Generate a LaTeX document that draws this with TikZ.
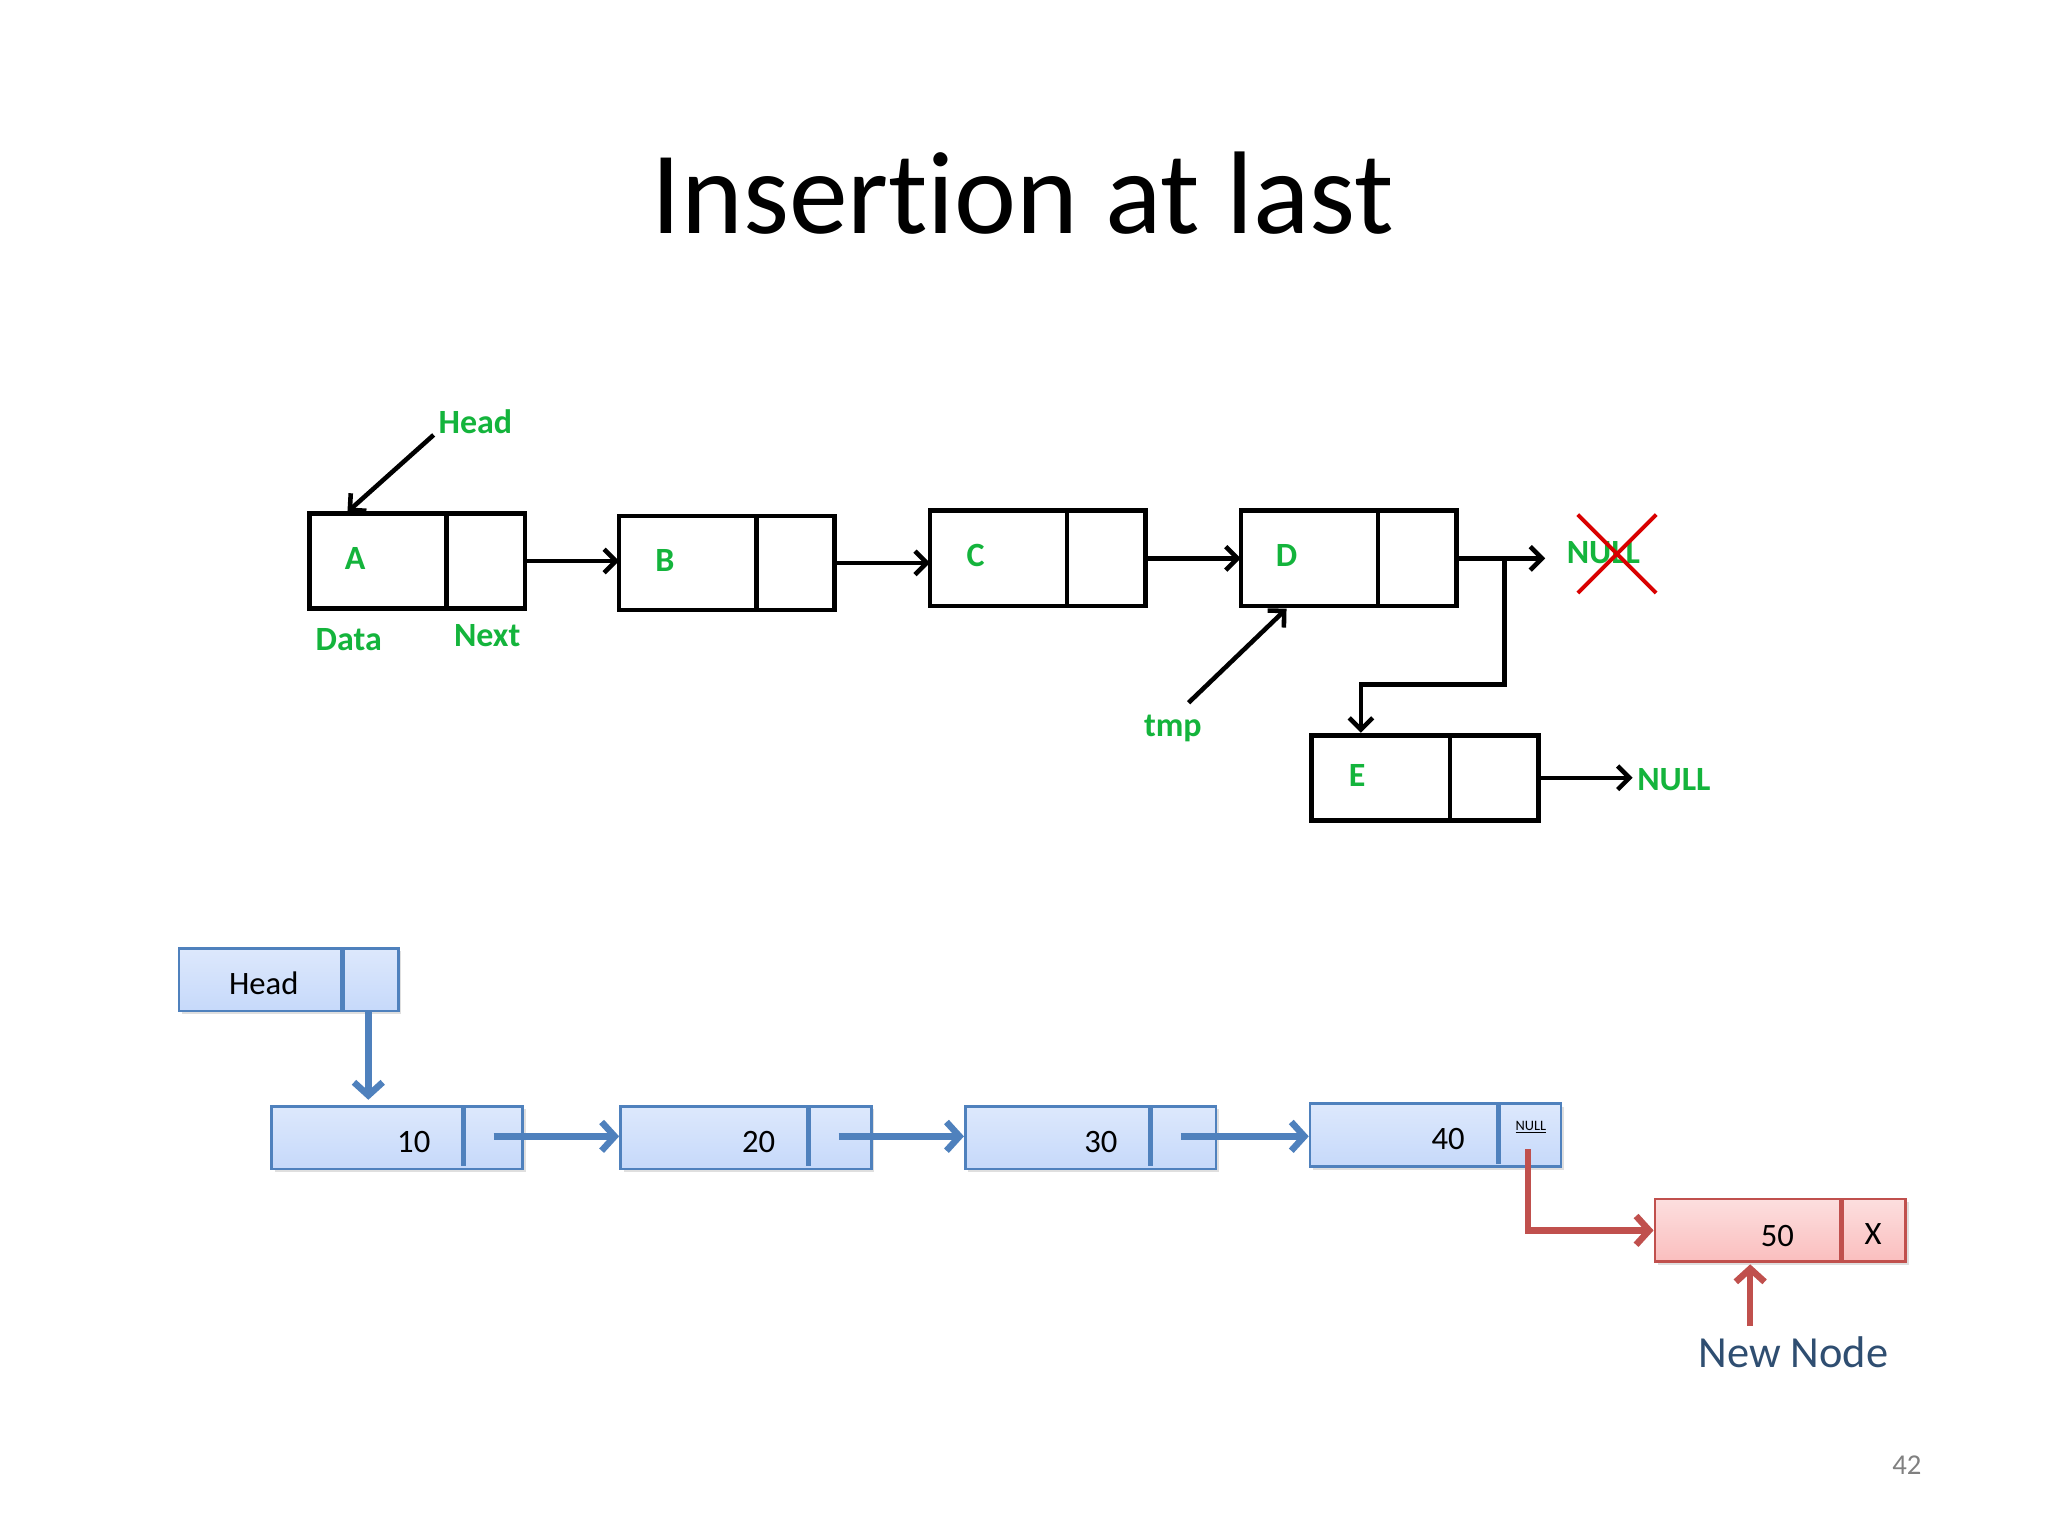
\documentclass[tikz,border=0pt]{standalone}
\usepackage{fontspec}
\setmainfont{Carlito}[Ligatures={NoCommon}]
\usetikzlibrary{arrows.meta,shadows}
\definecolor{grn}{RGB}{20,180,60}
\definecolor{bl}{RGB}{79,129,189}
\definecolor{blf}{RGB}{198,217,250}
\definecolor{rd}{RGB}{192,80,77}
\definecolor{rdf}{RGB}{250,190,190}
\newcommand\tbox[7]{%
 \draw[bx] (#2,#3) rectangle (#5,#6);
 \draw[bx] (#4,#3) -- (#4,#6);
 \path (#2,#3) -- coordinate (#1in) (#2,#6);
 \path (#5,#3) -- coordinate (#1out) (#5,#6);
 \node[gl] (#1t) at ([xshift=35pt,yshift=2pt]#1in) {#7};}
\newcommand\bbox[5]{%
 \node[bb,minimum width=192pt,minimum height=48pt,inner sep=0,anchor=north west] (#1) at (#2,#3) {};
 \draw[bl,line width=4pt] (#4,#3+1) -- (#4,#3+47);
 \node[nt,anchor=east] at (#4-22,#3+28) {#5};
 \coordinate (#1p) at (#4+23,#3+24);}
\begin{document}
\begin{tikzpicture}[x=1pt,y=-1pt,
 bx/.style={draw=black,line width=3.5pt},
 ar/.style={line width=3.5pt,-{Straight Barb[length=9pt,width=18pt]}},
 gl/.style={text=grn,font=\fontsize{26}{28}\selectfont\bfseries},
 bb/.style={draw=bl,line width=2pt,top color=blf!60!white,bottom color=blf,drop shadow={opacity=.25}},
 rb/.style={draw=rd,line width=2pt,top color=rdf!50!white,bottom color=rdf,drop shadow={opacity=.25}},
 ba/.style={draw=bl,line width=5pt,-{Straight Barb[length=10pt,width=22pt]}},
 ra/.style={draw=rd,line width=5pt,-{Straight Barb[length=10pt,width=22pt]}},
 nt/.style={font=\fontsize{25}{27}\selectfont}]
\useasboundingbox (0,0) rectangle (1568,1176);
\fill[white] (0,0) rectangle (1568,1176);
\node (title) at (783,148) {\fontsize{90}{100}\selectfont Insertion at last};
% top list
\tbox{A}{237}{393}{342}{402}{466}{A}
\tbox{B}{474}{395}{579}{639}{467}{B}
\tbox{C}{712}{391}{817}{877}{464}{C}
\tbox{D}{950}{391}{1055}{1115}{464}{D}
\tbox{E}{1004}{563}{1110}{1178}{628}{E}
\draw[ar] (Aout) -- (Aout -| Bin);
\draw[ar] (Bout) -- (Bout -| Cin);
\draw[ar] (Cout) -- (Cout -| Din);
\node[gl,anchor=west] (n1) at (1196,423) {NULL};
\draw[ar] (Dout) -- (1183,427.5);
\draw[red!85!black,line width=3pt] (1208,394) -- (1268,454) (1268,394) -- (1208,454);
\coordinate (br) at (1152,427);
\draw[ar] (br) -- (1152,524) -- (1042,524) -- (1042,561);
\node[gl,anchor=west] (n2) at (1250,597) {NULL};
\draw[ar] (Eout) -- (Eout -| n2.west);
\node[gl] (hd) at (364,323) {Head};
\draw[ar] (332,333) -- (266,392);
\node[gl] (dt) at (267,490) {Data};
\node[gl] (nx) at (373,487) {Next};
\node[gl] (tmp) at (898,558) {tmp};
\draw[ar] (910,538) -- (985,466);
% bottom list
\node[bb,minimum width=168pt,minimum height=48pt,inner sep=0] (H) at (221,750) {};
\draw[bl,line width=4pt] (262,727) -- (262,773);
\node[nt] at (202,753) {Head};
\bbox{a}{207}{846}{355}{10}
\bbox{b}{474}{846}{619}{20}
\bbox{c}{738}{846}{881}{30}
\bbox{d}{1002}{844}{1147}{40}
\draw[ba] (282,774) -- (282,842);
\draw[ba] (ap) -- (ap -| b.west);
\draw[ba] (bp) -- (bp -| c.west);
\draw[ba] (cp) -- (cp -| d.west);
\node[font=\fontsize{11}{11}\selectfont] at (1172,863) {\underline{NULL}};
\node[rb,minimum width=192pt,minimum height=48pt,inner sep=0] (e) at (1363,942) {};
\draw[rd,line width=4pt] (1410,919) -- (1410,965);
\node[nt,anchor=east] at (1377,946) {50};
\node[nt] at (1434,945) {X};
\draw[ra] (1170,880) -- (1170,942) -- (e.west);
\node[text=bl!60!black,font=\fontsize{34}{36}\selectfont] (nn) at (1373,1035) {New Node};
\draw[ra] (1340,1015) -- (1340,968);
\node[text=gray,font=\fontsize{22}{24}\selectfont] (pg) at (1460,1122) {42};
\end{tikzpicture}
\end{document}
